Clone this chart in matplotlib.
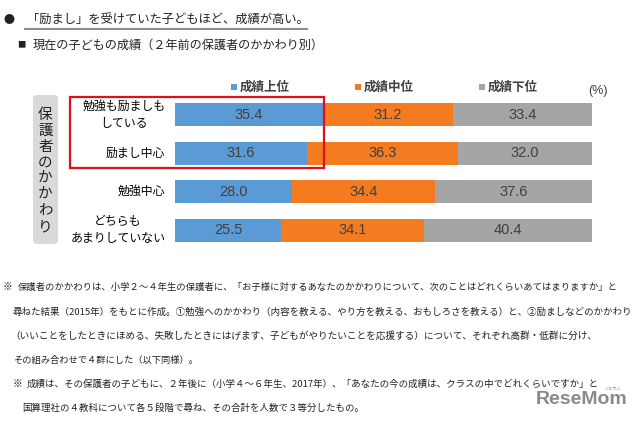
import matplotlib
matplotlib.use("Agg")
import matplotlib.pyplot as plt
from matplotlib.patches import Rectangle, FancyBboxPatch

plt.rcParams['font.family'] = ['Noto Sans CJK JP', 'DejaVu Sans']

# ---- data ----
categories = ["勉強も励ましも\nしている", "励まし中心", "勉強中心", "どちらも\nあまりしていない"]
series_names = ["成績上位", "成績中位", "成績下位"]
top_vals = [35.4, 31.6, 28.0, 25.5]
mid_vals = [31.2, 36.3, 34.4, 34.1]
low_vals = [33.4, 32.0, 37.6, 40.4]
colors = ["#5B9BD5", "#F47B20", "#A5A5A5"]

title = "「励まし」を受けていた子どもほど、成績が高い。"
subtitle = "現在の子どもの成績（２年前の保護者のかかわり別）"
side_label = "保護者のかかわり"
unit_label = "(%)"
notes = [
    "保護者のかかわりは、小学２～４年生の保護者に、「お子様に対するあなたのかかわりについて、次のことはどれくらいあてはまりますか」と",
    "尋ねた結果（2015年）をもとに作成。①勉強へのかかわり（内容を教える、やり方を教える、おもしろさを教える）と、②励ましなどのかかわり",
    "（いいことをしたときにほめる、失敗したときにはげます、子どもがやりたいことを応援する）について、それぞれ高群・低群に分け、",
    "その組み合わせで４群にした（以下同様）。",
    "成績は、その保護者の子どもに、２年後に（小学４～６年生、2017年）、「あなたの今の成績は、クラスの中でどれくらいですか」と",
    "国算理社の４教科について各５段階で尋ね、その合計を人数で３等分したもの。",
]

W, H = 640, 421
fig = plt.figure(figsize=(W / 100, H / 100), dpi=100)
fig.patch.set_facecolor("white")


def fx(x):
    return x / W


def fy(y):
    return 1 - y / H


# ---- bar axes ----
ax_l, ax_r, ax_t, ax_b = 175, 592, 95.8, 249.2
ax = fig.add_axes([fx(ax_l), fy(ax_b), (ax_r - ax_l) / W, (ax_b - ax_t) / H])
y = list(range(len(categories)))
left = [0] * len(categories)
for vals, c in zip([top_vals, mid_vals, low_vals], colors):
    bars = ax.barh(y, vals, left=left, height=0.6, color=c, edgecolor="none")
    for b, v in zip(bars, vals):
        ax.text(b.get_x() + b.get_width() / 2, b.get_y() + b.get_height() / 2,
                f"{v:.1f}", ha="center", va="center", color="#404040",
                fontsize=10.5, family=["Liberation Sans", "DejaVu Sans"])
    left = [l + v for l, v in zip(left, vals)]
ax.set_xlim(0, 100)
ax.set_ylim(3.5, -0.5)
ax.axis("off")

# category labels
for i, cat in enumerate(categories):
    ax.text(-2.3, i, cat, ha="right", va="center", multialignment="center",
            fontsize=8.6, color="#000000", linespacing=1.35,
            transform=ax.transData, clip_on=False)

# legend
leg_x = [234, 357.5, 481.6]
for lx, name, c in zip(leg_x, series_names, colors):
    fig.patches.append(Rectangle((fx(lx - 3), fy(87 + 3)), 6 / W, 6 / H,
                                 transform=fig.transFigure, color=c, lw=0))
    fig.text(fx(lx + 6), fy(87), name, ha="left", va="center", fontsize=9,
             fontweight="bold", color="#404040")
fig.text(fx(598), fy(91), unit_label, ha="center", va="center", fontsize=9,
         color="#404040", family=["Liberation Sans", "DejaVu Sans"])

# side label box
fig.patches.append(FancyBboxPatch((fx(33), fy(244)), 25 / W, 149 / H,
                                  boxstyle="round,pad=0,rounding_size=0.008",
                                  transform=fig.transFigure, facecolor="#D9D9D9",
                                  edgecolor="none"))
for k, ch in enumerate(side_label):
    fig.text(fx(45.5), fy(115 + k * 16), ch, ha="center", va="center",
             fontsize=10.5, color="#222222")

# red highlight rectangle
fig.patches.append(Rectangle((fx(70), fy(168)), (324 - 70) / W, (168 - 97) / H,
                             transform=fig.transFigure, fill=False,
                             edgecolor="#E0101A", lw=1.6))

# ---- title ----
fig.canvas.draw()
renderer = fig.canvas.get_renderer()


def fit(t, x0, x1):
    bb = t.get_window_extent(renderer)
    t.set_fontsize(t.get_fontsize() * (x1 - x0) / bb.width)


fig.text(fx(9), fy(20), "●", ha="center", va="center", fontsize=8, color="#222222")
t = fig.text(fx(27), fy(20), title, ha="left", va="center", fontsize=8.5, color="#222222")
fit(t, 27, 309)
fig.add_artist(plt.Line2D([fx(25), fx(307)], [fy(28.5), fy(28.5)],
                          transform=fig.transFigure, color="#8C8C8C", lw=1.5))
fig.text(fx(21.5), fy(45), "■", ha="center", va="center", fontsize=6, color="#222222")
t = fig.text(fx(33), fy(45), subtitle, ha="left", va="center", fontsize=8.6, color="#222222")
fit(t, 33, 324)

# ---- notes ----
note_y = [287, 312, 336, 360, 384, 408]
note_x0 = [18, 13, 10, 13, 27, 22]
note_x1 = [619, 633, 603, 199, 601, 364]
fig.text(fx(8), fy(287), "※", ha="center", va="center", fontsize=7, color="#222222")
fig.text(fx(18), fy(384), "※", ha="center", va="center", fontsize=7, color="#222222")
for txt, yy, x0, x1 in zip(notes, note_y, note_x0, note_x1):
    t = fig.text(fx(x0), fy(yy), txt, ha="left", va="center", fontsize=6.8, color="#222222")
    fit(t, x0, x1)

# watermark
fig.text(fx(582), fy(399), "ReseMom", ha="center", va="center", fontsize=14,
         fontweight="bold", color="#8A8A8A", family=["Liberation Sans", "DejaVu Sans"])
fig.text(fx(612), fy(389), "リセマム", ha="center", va="center", fontsize=3, color="#8A8A8A")

fig.savefig("out.png", dpi=100, facecolor="white")
